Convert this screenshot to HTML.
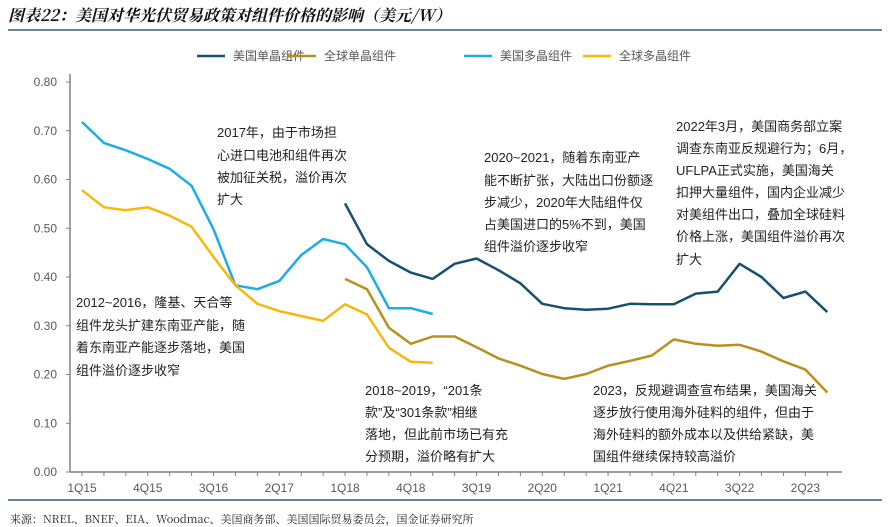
<!DOCTYPE html>
<html><head><meta charset="utf-8"><style>
body{margin:0;background:#fff;}
svg{display:block;font-family:"Liberation Sans","Noto Sans CJK SC",sans-serif;}
.ann{font-size:13px;fill:#222;}
.tick{font-size:12px;fill:#595959;}
</style></head><body>
<svg id="chart" width="890" height="527" viewBox="0 0 890 527">
<text x="8" y="21" font-size="16" font-weight="bold" font-style="italic" fill="#111" font-family="'Noto Serif CJK SC','Liberation Serif',serif">图表22：美国对华光伏贸易政策对组件价格的影响（美元/W）</text>
<line x1="8" y1="30" x2="882" y2="30" stroke="#2f5d80" stroke-width="1.5"/>
<g id="legend" font-size="12" fill="#595959"></g>
<g id="axes"></g>
<g id="series"></g>
<g class="ann">
<text x="217"><tspan x="217" y="137">2017年，由于市场担</tspan><tspan x="217" y="160">心进口电池和组件再次</tspan><tspan x="217" y="182">被加征关税，溢价再次</tspan><tspan x="217" y="204">扩大</tspan></text>
<text><tspan x="76" y="307">2012~2016，隆基、天合等</tspan><tspan x="76" y="330">组件龙头扩建东南亚产能，随</tspan><tspan x="76" y="352">着东南亚产能逐步落地，美国</tspan><tspan x="76" y="375">组件溢价逐步收窄</tspan></text>
<text><tspan x="484" y="162">2020~2021，随着东南亚产</tspan><tspan x="484" y="185">能不断扩张，大陆出口份额逐</tspan><tspan x="484" y="207">步减少，2020年大陆组件仅</tspan><tspan x="484" y="229">占美国进口的5%不到，美国</tspan><tspan x="484" y="251">组件溢价逐步收窄</tspan></text>
<text><tspan x="676" y="131">2022年3月，美国商务部立案</tspan><tspan x="676" y="153">调查东南亚反规避行为；6月，</tspan><tspan x="676" y="175">UFLPA正式实施，美国海关</tspan><tspan x="676" y="197">扣押大量组件，国内企业减少</tspan><tspan x="676" y="219">对美组件出口，叠加全球硅料</tspan><tspan x="676" y="241">价格上涨，美国组件溢价再次</tspan><tspan x="676" y="264">扩大</tspan></text>
<text><tspan x="365" y="395">2018~2019，“201条</tspan><tspan x="365" y="417">款”及“301条款”相继</tspan><tspan x="365" y="439">落地，但此前市场已有充</tspan><tspan x="365" y="461">分预期，溢价略有扩大</tspan></text>
<text><tspan x="593" y="395">2023，反规避调查宣布结果，美国海关</tspan><tspan x="593" y="417">逐步放行使用海外硅料的组件，但由于</tspan><tspan x="593" y="439">海外硅料的额外成本以及供给紧缺，美</tspan><tspan x="593" y="461">国组件继续保持较高溢价</tspan></text>
</g>
<line x1="8" y1="500" x2="882" y2="500" stroke="#2f5d80" stroke-width="1.5"/>
<text x="10" y="523" font-size="11" fill="#222" font-family="'Noto Serif CJK SC','Liberation Serif',serif">来源：NREL、BNEF、EIA、Woodmac、美国商务部、美国国际贸易委员会，国金证券研究所</text>
</svg>
<script>
const quarterLabels=["1Q15","4Q15","3Q16","2Q17","1Q18","4Q18","3Q19","2Q20","1Q21","4Q21","3Q22","2Q23"];
const yTicks=[0,0.1,0.2,0.3,0.4,0.5,0.6,0.7,0.8];
const usPoly=[0.718,0.675,0.660,0.642,0.622,0.587,0.498,0.383,0.375,0.392,0.445,0.478,0.467,0.420,0.336,0.336,0.324];
const globalPoly=[0.578,0.543,0.537,0.543,0.526,0.503,0.441,0.383,0.345,0.330,0.320,0.310,0.344,0.323,0.255,0.226,0.224];
const usMono=[0.551,0.467,0.433,0.409,0.396,0.427,0.438,0.414,0.387,0.345,0.336,0.333,0.335,0.345,0.344,0.344,0.366,0.370,0.427,0.400,0.357,0.370,0.328];
const globalMono=[0.396,0.375,0.296,0.263,0.278,0.278,0.256,0.233,0.218,0.201,0.191,0.201,0.218,0.228,0.239,0.272,0.263,0.259,0.261,0.247,0.227,0.210,0.163];
const monoStart=12;
const NS="http://www.w3.org/2000/svg";
const X0=82,DX=21.92,Y0=472,YS=487.5;
function xs(i){return X0+i*DX;}
function ys(v){return Y0-v*YS;}
function mk(tag,parent,attrs){const e=document.createElementNS(NS,tag);for(const k in attrs)e.setAttribute(k,attrs[k]);parent.appendChild(e);return e;}
const axes=document.getElementById('axes');
let e=mk('line',axes,{x1:70,y1:74,x2:70,y2:Y0,stroke:'#808080','stroke-width':1.5});


e=mk('line',axes,{x1:70,y1:Y0,x2:842,y2:Y0,stroke:'#808080','stroke-width':1.5});


yTicks.forEach(v=>{
 const t=mk('line',axes,{x1:66,y1:ys(v),x2:70,y2:ys(v),stroke:'#808080'});
 
 
 const l=mk('text',axes,{x:57,y:ys(v)+4,'text-anchor':'end',class:'tick'});
 l.textContent=v.toFixed(2);
 
 
});
for(let i=0;i<35;i++){
 const t=mk('line',axes,{x1:xs(i),y1:Y0,x2:xs(i),y2:Y0+4,stroke:'#808080'});
 
 
}
quarterLabels.forEach((q,k)=>{
 const l=mk('text',axes,{x:xs(k*3),y:492,'text-anchor':'middle',class:'tick'});
 l.textContent=q;
 
 
});
const series=document.getElementById('series');
function draw(arr,start,color,name){
 const p=mk('polyline',series,{points:arr.map((v,i)=>xs(i+start).toFixed(1)+','+ys(v).toFixed(1)).join(' '),fill:'none',stroke:color,'stroke-width':2.5,'stroke-linejoin':'round'});
 
 
}
draw(usPoly,0,'#1aaee5','us-poly-line');
draw(globalPoly,0,'#f6b90b','global-poly-line');
draw(usMono,monoStart,'#18506f','us-mono-line');
draw(globalMono,monoStart,'#b8901c','global-mono-line');
const legend=document.getElementById('legend');
[["美国单晶组件",'#18506f',197],["全球单晶组件",'#b8901c',288],["美国多晶组件",'#1aaee5',464],["全球多晶组件",'#f6b90b',583]].forEach(d=>{
 const l=mk('line',legend,{x1:d[2],y1:56,x2:d[2]+28,y2:56,stroke:d[1],'stroke-width':2.5});
 
 
 const t=mk('text',legend,{x:d[2]+36,y:60});
 t.textContent=d[0];
 
 
});
</script>
</body></html>
